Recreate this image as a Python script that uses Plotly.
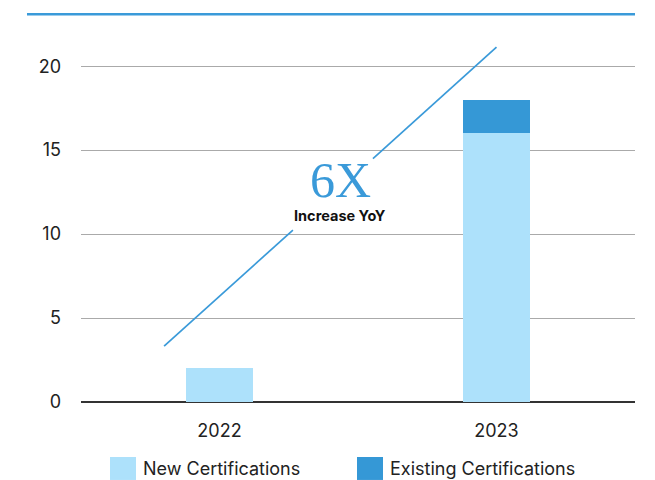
import plotly.graph_objects as go

years = ["2022", "2023"]
new_cert = [2, 16]
existing_cert = [0, 2]
y_ticks = [0, 5, 10, 15, 20]
trend_x = [-0.2, 0.265, None, 0.554, 1.0]
trend_y = [3.33, 10.24, None, 14.5, 21.13]

NEW_C = "#ade1fb"
EX_C = "#3598d6"
LINE_C = "#3a9ad9"
FONT = "Inter"

fig = go.Figure()
fig.add_trace(go.Bar(x=years, y=new_cert, name="New Certifications",
                     marker_color=NEW_C, marker_line_width=0, width=0.24, showlegend=False))
fig.add_trace(go.Bar(x=years, y=existing_cert, name="Existing Certifications",
                     marker_color=EX_C, marker_line_width=0, width=0.24, showlegend=False))
fig.add_trace(go.Scatter(x=trend_x, y=trend_y, mode="lines",
                         line=dict(color=LINE_C, width=1.7), showlegend=False,
                         hoverinfo="skip", xaxis="x2"))

fig.update_layout(
    width=655, height=480,
    margin=dict(l=81, r=20, t=41, b=78),
    barmode="stack",
    plot_bgcolor="white", paper_bgcolor="white",
    font=dict(family=FONT, size=18, color="#222222"),
    xaxis=dict(type="category", range=[-0.5, 1.5], showgrid=False, showline=False,
               ticks="", tickfont=dict(size=18, color="#222"), ticklabelstandoff=16),
    xaxis2=dict(range=[-0.5, 1.5], overlaying="x", visible=False),
    yaxis=dict(range=[0, 21.5], tickvals=y_ticks, showgrid=True, gridcolor="#aaaaaa",
               gridwidth=1, zeroline=True, zerolinecolor="#333333", zerolinewidth=1.5,
               ticks="", tickfont=dict(size=18, color="#222"), ticklabelstandoff=19),
    showlegend=False,
)

# top rule
fig.add_shape(type="line", xref="paper", yref="paper", x0=-0.0975, x1=1.0,
              y0=1.074, y1=1.074, line=dict(color=LINE_C, width=2.5))

# annotation text
fig.add_annotation(x=0.435, y=13.2, xref="x2", yref="y", text="6X", showarrow=False,
                   font=dict(family="Liberation Serif, serif", size=50, color=LINE_C))
fig.add_annotation(x=0.435, y=11.1, xref="x2", yref="y", text="<b>Increase YoY</b>",
                   showarrow=False, font=dict(family=FONT, size=14.5, color="#111"))

# manual legend
legend_items = [("New Certifications", NEW_C, 110), ("Existing Certifications", EX_C, 357)]
for name, col, px in legend_items:
    x0 = (px - 81) / 554
    x1 = (px + 26 - 81) / 554
    fig.add_shape(type="rect", xref="paper", yref="paper", x0=x0, x1=x1,
                  y0=(402 - 480) / 361.2, y1=(402 - 457) / 361.2,
                  line=dict(width=0), fillcolor=col)
    fig.add_annotation(xref="paper", yref="paper", x=(px + 31 - 81) / 554,
                       y=(402 - 469) / 361.2, text=name, showarrow=False,
                       xanchor="left", yanchor="middle",
                       font=dict(family=FONT, size=18, color="#222"))

fig.write_html("out.html")
